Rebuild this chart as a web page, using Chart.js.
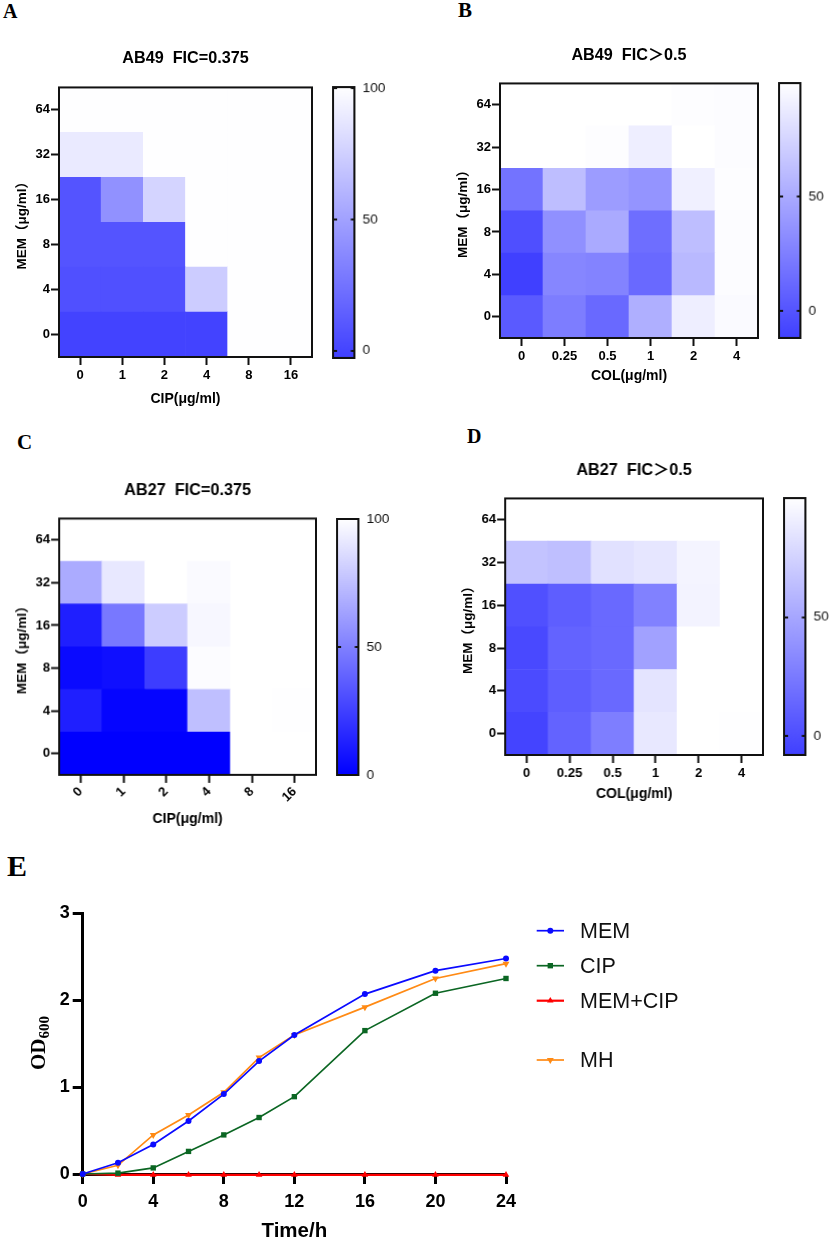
<!DOCTYPE html>
<html>
<head>
<meta charset="utf-8">
<style>
  html, body { margin: 0; padding: 0; background: #fff; }
  body { position: relative; width: 830px; height: 1242px; overflow: hidden; }
  canvas { position: absolute; }
  .tag { position: absolute; font-family: "Liberation Serif", serif; font-weight: bold; color: #000; line-height: 1; }
</style>
<script src="https://cdn.jsdelivr.net/npm/chart.js@4"></script>
</head>
<body>
<script>
// heatmap axes, rows run from MEM 0 up to MEM 64
const memLabels = ['0', '4', '8', '16', '32', '64'];
const cipLabels = ['0', '1', '2', '4', '8', '16'];
const colLabels = ['0', '0.25', '0.5', '1', '2', '4'];

const ab49Cip = [
  [-1, -1, -1, -1, 100, 100],
  [6, 6, 6, 73, 100, 100],
  [8, 8, 8, 100, 100, 100],
  [8, 41, 77, 100, 100, 100],
  [89, 89, 100, 100, 100, 100],
  [100, 100, 100, 100, 100, 100]
];
const ab49Col = [
  [3, 24, 12, 53, 90, 97],
  [-12, 29, 27, 12, 59, 98],
  [-3, 35, 50, 15, 62, 98],
  [18, 62, 42, 37, 91, 99],
  [100, 100, 99, 90, 100, 98],
  [100, 100, 100, 100, 99, 98]
];
const ab27Cip = [
  [0, 0, 0, 0, 100, 100],
  [12, 2, 2, 75, 100, 99.6],
  [4, 6, 24, 99, 100, 100],
  [12, 47, 80, 97, 100, 100],
  [67, 91, 100, 98, 100, 100],
  [100, 100, 100, 100, 100, 100]
];
const ab27Col = [
  [-6, 12, 27, 87, 100, 99.7],
  [-2, 9, 15, 85, 100, 100],
  [-3, 12, 15, 47, 100, 100],
  [1, 9, 15, 29, 93, 100],
  [66, 64, 83, 86, 94, 100],
  [100, 100, 100, 100, 100, 100]
];

// growth curves
const hours = [0, 2, 4, 6, 8, 10, 12, 16, 20, 24];
const odMem = [0, 0.13, 0.34, 0.61, 0.92, 1.30, 1.60, 2.07, 2.34, 2.48];
const odCip = [0, 0.01, 0.07, 0.26, 0.45, 0.65, 0.89, 1.65, 2.08, 2.25];
const odMemCip = [0, -0.01, -0.01, -0.01, -0.01, -0.01, -0.01, -0.01, -0.01, -0.01];
const odMh = [0, 0.10, 0.45, 0.68, 0.94, 1.34, 1.60, 1.92, 2.25, 2.42];

const sans = '"Liberation Sans", Arial, "Noto Sans CJK SC", sans-serif';

function addCanvas(left, top, width, height) {
  const c = document.createElement('canvas');
  c.width = width;
  c.height = height;
  c.style.left = left + 'px';
  c.style.top = top + 'px';
  c.style.width = width + 'px';
  c.style.height = height + 'px';
  document.body.appendChild(c);
  return c.getContext('2d');
}

function cellColor(v, min, max, low) {
  const t = Math.min(1, Math.max(0, (v - min) / (max - min)));
  const c = Math.round(low + (255 - low) * t);
  return `rgb(${c},${c},255)`;
}

const frame = {
  id: 'frame',
  afterDraw(chart) {
    const a = chart.chartArea, ctx = chart.ctx;
    ctx.save();
    ctx.strokeStyle = '#111';
    ctx.lineWidth = 2;
    ctx.strokeRect(a.left, a.top, a.right - a.left, a.bottom - a.top);
    ctx.restore();
  }
};

function heatmap(p) {
  const yW = 52, titleH = 19.44, xH = p.xTitle + 10;
  const w = p.right - p.left, h = p.bottom - p.top;
  const ctx = addCanvas(p.left - yW, p.top - titleH - p.titleGap, yW + w + 4, titleH + p.titleGap + h + xH);
  new Chart(ctx, {
    type: 'bar',
    data: {
      labels: p.xLabels,
      datasets: p.rows.map((row, r) => ({
        data: row.map(() => [r - 0.5, r + 0.5]),
        backgroundColor: row.map(v => cellColor(v, p.min, p.max, p.low)),
        borderWidth: 0,
        grouped: false,
        barPercentage: 1,
        categoryPercentage: 1
      }))
    },
    options: {
      responsive: false,
      animation: false,
      layout: { padding: { right: 4 } },
      plugins: {
        legend: { display: false },
        tooltip: { enabled: false },
        title: {
          display: true,
          text: p.title,
          fullSize: false,
          color: '#000',
          font: { family: sans, size: 16.2, weight: 'bold', lineHeight: 1.2 },
          padding: { top: 0, bottom: p.titleGap }
        }
      },
      scales: {
        x: {
          grid: { display: true, offset: false, drawOnChartArea: false, color: '#111', tickLength: 8, tickWidth: 2 },
          border: { display: false },
          ticks: {
            color: '#000',
            padding: p.rotate ? 1 : 3,
            autoSkip: false,
            maxRotation: p.rotate || 0,
            minRotation: p.rotate || 0,
            font: { family: sans, size: 13, weight: 'bold' }
          },
          title: {
            display: true,
            text: p.xName,
            color: '#000',
            font: { family: sans, size: 14, weight: 'bold', lineHeight: 1.2 },
            padding: { top: 0, bottom: 1.6 }
          },
          afterFit(s) { s.height = xH; }
        },
        y: {
          min: -0.5,
          max: memLabels.length - 0.5,
          grid: { display: true, drawOnChartArea: false, color: '#111', tickLength: 8, tickWidth: 2 },
          border: { display: false },
          afterBuildTicks(s) { s.ticks = memLabels.map((_, i) => ({ value: i })); },
          ticks: {
            color: '#000',
            padding: 1,
            autoSkip: false,
            callback: v => memLabels[v],
            font: { family: sans, size: 13, weight: 'bold' }
          },
          title: {
            display: true,
            text: 'MEM（μg/ml）',
            color: '#000',
            font: { family: sans, size: 13.5, weight: 'bold', lineHeight: 1.2 },
            padding: { top: 7.4, bottom: 0 }
          },
          afterFit(s) { s.width = yW; }
        }
      }
    },
    plugins: [frame]
  });

  // colour bar
  const barCtx = addCanvas(p.barLeft - 2, p.top - 18, 2 + 21.5 + 40, h + 36);
  new Chart(barCtx, {
    type: 'bar',
    data: {
      labels: ['scale'],
      datasets: [{
        data: [[p.min, p.max]],
        barPercentage: 1,
        categoryPercentage: 1,
        borderWidth: 0,
        backgroundColor(c) {
          const a = c.chart.chartArea;
          if (!a) return '#00f';
          const g = c.chart.ctx.createLinearGradient(0, a.bottom, 0, a.top);
          g.addColorStop(0, cellColor(p.min, p.min, p.max, p.low));
          g.addColorStop(1, '#fff');
          return g;
        }
      }]
    },
    options: {
      responsive: false,
      animation: false,
      layout: { padding: { top: 18, bottom: 18, left: 2 } },
      plugins: { legend: { display: false }, tooltip: { enabled: false } },
      scales: {
        x: { display: false },
        y: {
          position: 'right',
          min: p.min,
          max: p.max,
          grid: { color: '#111', lineWidth: 2, drawTicks: false, z: 1 },
          border: { display: false, dash: [4, 13.5] },
          afterBuildTicks(s) { s.ticks = p.barTicks.map(v => ({ value: v })); },
          ticks: { color: '#111', padding: 8, font: { family: sans, size: 13.5 } },
          afterFit(s) { s.width = 40; }
        }
      }
    },
    plugins: [frame]
  });
}

heatmap({
  title: 'AB49  FIC=0.375', xName: 'CIP(μg/ml)', xLabels: cipLabels, rows: ab49Cip,
  left: 58.5, right: 312, top: 87, bottom: 357.5, titleGap: 19, xTitle: 42,
  barLeft: 333, min: -2.8, max: 100.4, low: 64, barTicks: [0, 50, 100]
});
heatmap({
  title: 'AB49  FIC＞0.5', xName: 'COL(μg/ml)', xLabels: colLabels, rows: ab49Col,
  left: 500, right: 758, top: 83, bottom: 337.7, titleGap: 18, xTitle: 38,
  barLeft: 779.3, min: -12, max: 100, low: 64, barTicks: [0, 50]
});
heatmap({
  title: 'AB27  FIC=0.375', xName: 'CIP(μg/ml)', xLabels: cipLabels, rows: ab27Cip,
  left: 59.3, right: 315.7, top: 518.7, bottom: 775, titleGap: 18, xTitle: 44, rotate: 45,
  barLeft: 337.3, min: 0, max: 100, low: 0, barTicks: [0, 50, 100]
});
heatmap({
  title: 'AB27  FIC＞0.5', xName: 'COL(μg/ml)', xLabels: colLabels, rows: ab27Col,
  left: 505.3, right: 762.7, top: 498, bottom: 754.7, titleGap: 18, xTitle: 39,
  barLeft: 784, min: -8, max: 100, low: 64, barTicks: [0, 50]
});

// legend sits in column to the right, MH row is set apart like in the figure
const legendRows = [930.7, 965.7, 1000.7, 1060];
const top0 = 890;
const growthLegend = {
  id: 'growthLegend',
  afterDraw(chart) {
    const ctx = chart.ctx;
    ctx.save();
    chart.data.datasets.forEach((d, i) => {
      const y = legendRows[i] - top0;
      ctx.strokeStyle = d.borderColor;
      ctx.lineWidth = d.borderWidth;
      ctx.beginPath();
      ctx.moveTo(536.7, y);
      ctx.lineTo(564, y);
      ctx.stroke();
      ctx.fillStyle = d.backgroundColor;
      Chart.helpers.drawPoint(ctx, { pointStyle: d.pointStyle, rotation: d.pointRotation || 0, radius: d.pointRadius, borderWidth: 0 }, 550.3, y);
      ctx.fillStyle = '#111';
      ctx.font = '21.5px ' + sans;
      ctx.textAlign = 'left';
      ctx.textBaseline = 'middle';
      ctx.fillText(d.label, 580, y + 1);
    });
    // y title with subscript
    ctx.translate(36.5, 1043 - top0);
    ctx.rotate(-Math.PI / 2);
    ctx.fillStyle = '#000';
    ctx.textBaseline = 'alphabetic';
    ctx.textAlign = 'left';
    ctx.font = 'bold 21px "Liberation Serif", serif';
    const odW = ctx.measureText('OD').width;
    ctx.font = 'bold 15px "Liberation Serif", serif';
    const subW = ctx.measureText('600').width;
    const x0 = -(odW + subW) / 2;
    ctx.font = 'bold 21px "Liberation Serif", serif';
    ctx.fillText('OD', x0, 8);
    ctx.font = 'bold 15px "Liberation Serif", serif';
    ctx.fillText('600', x0 + odW, 12);
    ctx.restore();
  }
};

function series(label, values, color, style, radius, rotation) {
  return {
    label,
    data: hours.map((h, i) => ({ x: h, y: values[i] })),
    borderColor: color,
    backgroundColor: color,
    borderWidth: label === 'MEM+CIP' ? 2.2 : 1.7,
    pointStyle: style,
    pointRadius: radius,
    pointRotation: rotation || 0,
    pointBorderWidth: 0,
    clip: false,
    tension: 0
  };
}

new Chart(addCanvas(0, top0, 830, 354), {
  type: 'line',
  data: {
    datasets: [
      series('MEM', odMem, '#0a0aff', 'circle', 3),
      series('CIP', odCip, '#0b6623', 'rect', 3.8),
      series('MEM+CIP', odMemCip, '#ff0000', 'triangle', 3.8),
      series('MH', odMh, '#ff8a14', 'triangle', 4, 180)
    ]
  },
  options: {
    responsive: false,
    animation: false,
    layout: { padding: { top: 23.3, right: 324 } },
    plugins: { legend: { display: false }, tooltip: { enabled: false } },
    scales: {
      x: {
        type: 'linear',
        min: 0,
        max: 24,
        grid: { drawOnChartArea: false, color: '#000', tickLength: 10, tickWidth: 3 },
        border: { color: '#000', width: 3 },
        ticks: { stepSize: 4, color: '#000', padding: 7.5, maxRotation: 0, font: { family: sans, size: 18, weight: 'bold' } },
        title: {
          display: true,
          text: 'Time/h',
          color: '#000',
          font: { family: sans, size: 20.5, weight: 'bold', lineHeight: 1.2 },
          padding: { top: 0, bottom: 0 }
        },
        afterFit(s) { s.height = 70; }
      },
      y: {
        min: 0,
        max: 3,
        grid: { drawOnChartArea: false, color: '#000', tickLength: 10, tickWidth: 3 },
        border: { color: '#000', width: 3 },
        ticks: { stepSize: 1, color: '#000', padding: 3, font: { family: sans, size: 18, weight: 'bold' } },
        afterFit(s) { s.width = 82.7; }
      }
    }
  },
  plugins: [growthLegend]
});

// panel letters
[['A', 3, 1, 20], ['B', 458, 0, 21], ['C', 17, 432, 21], ['D', 467, 426, 20], ['E', 7, 851, 30]].forEach(t => {
  const d = document.createElement('div');
  d.className = 'tag';
  d.textContent = t[0];
  d.style.left = t[1] + 'px';
  d.style.top = t[2] + 'px';
  d.style.fontSize = t[3] + 'px';
  document.body.appendChild(d);
});
</script>
</body>
</html>
